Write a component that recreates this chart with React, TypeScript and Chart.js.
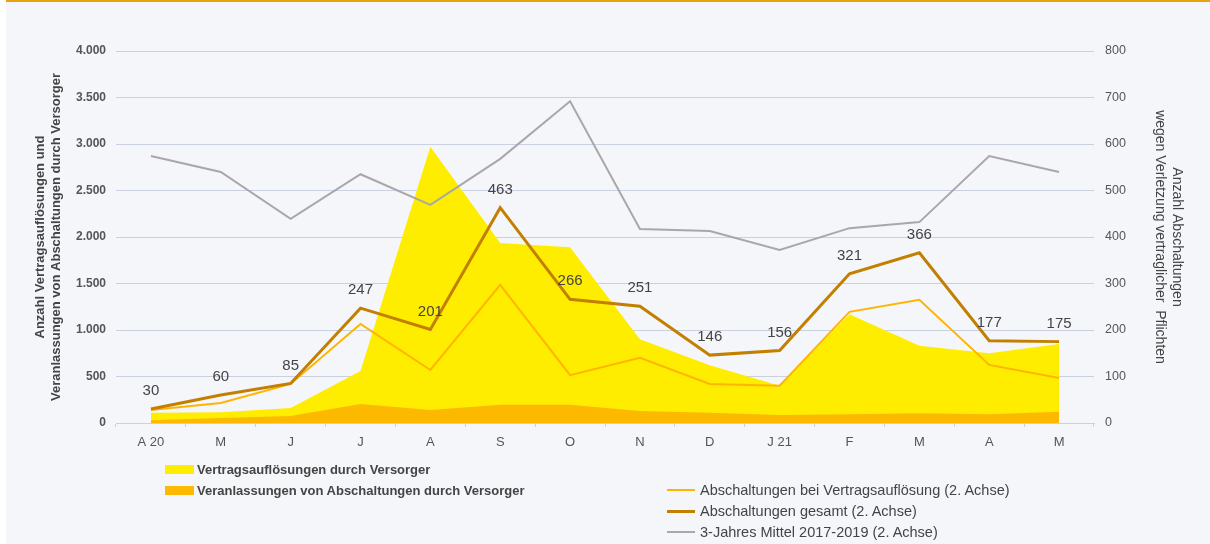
import React, { useEffect, useRef } from "react";
import { Chart, registerables } from "chart.js";

Chart.register(...registerables);

const categories = ["A 20", "M", "J", "J", "A", "S", "O", "N", "D", "J 21", "F", "M", "A", "M"];
const vertragsaufloesungen = [110, 115, 160, 560, 2970, 1935, 1890, 900, 620, 400, 1170, 830, 750, 850];
const veranlassungen = [30, 55, 75, 205, 140, 195, 195, 130, 110, 85, 95, 105, 95, 120];
const abschBeiVertrag = [28, 43, 84, 213, 114, 297, 103, 140, 84, 80, 239, 265, 125, 97];
const abschGesamt = [30, 60, 85, 247, 201, 463, 266, 251, 146, 156, 321, 366, 177, 175];
const mittel2017bis2019 = [574, 540, 439, 535, 469, 568, 692, 417, 413, 372, 419, 432, 574, 540];

const leftAxisMax = 4000;
const leftAxisStep = 500;
const rightAxisMax = 800;
const rightAxisStep = 100;

const leftTitle = ["Anzahl Vertragsauflösungen und", "Veranlassungen von Abschaltungen durch Versorger"];
const rightTitle = ["Anzahl Abschaltungen", "wegen Verletzung vertraglicher  Pflichten"];

const seriesLabels = [
  "Vertragsauflösungen durch Versorger",
  "Veranlassungen von Abschaltungen durch Versorger",
  "Abschaltungen bei Vertragsauflösung (2. Achse)",
  "Abschaltungen gesamt (2. Achse)",
  "3-Jahres Mittel 2017-2019 (2. Achse)",
];

const C_YELLOW = "#FFED00";
const C_ORANGE = "#FDB900";
const C_LIGHTLINE = "#FFB400";
const C_BROWN = "#C27F00";
const C_GRAY = "#A8A8A8";
const C_GRID = "#C9D0DF";
const C_TEXT = "#444444";
const FONT = "'Liberation Sans', Arial, sans-serif";

const fmtDE = (v: number) => String(v).replace(/\B(?=(\d{3})+(?!\d))/g, ".");

const labelPlugin = {
  id: "gesamtLabels",
  afterDatasetsDraw(chart: any) {
    const idx = chart.data.datasets.findIndex((d: any) => d.label === seriesLabels[3]);
    if (idx < 0) return;
    const meta = chart.getDatasetMeta(idx);
    const ctx = chart.ctx;
    ctx.save();
    ctx.font = `15px ${FONT}`;
    ctx.fillStyle = C_TEXT;
    ctx.textAlign = "center";
    ctx.textBaseline = "middle";
    meta.data.forEach((pt: any, i: number) => {
      ctx.fillText(String(abschGesamt[i]), pt.x, pt.y - 18);
    });
    ctx.restore();
  },
};

export default function App() {
  const ref = useRef<HTMLCanvasElement | null>(null);

  useEffect(() => {
    if (!ref.current) return;
    const chart = new Chart(ref.current, {
      type: "line",
      data: {
        labels: categories,
        datasets: [
          {
            label: seriesLabels[0],
            data: vertragsaufloesungen,
            yAxisID: "y",
            backgroundColor: C_YELLOW,
            borderColor: C_YELLOW,
            borderWidth: 0,
            fill: "origin",
            pointRadius: 0,
            tension: 0,
            order: 5,
          },
          {
            label: seriesLabels[1],
            data: veranlassungen,
            yAxisID: "y",
            backgroundColor: C_ORANGE,
            borderColor: C_ORANGE,
            borderWidth: 0,
            fill: "origin",
            pointRadius: 0,
            tension: 0,
            order: 4,
          },
          {
            label: seriesLabels[2],
            data: abschBeiVertrag,
            yAxisID: "y2",
            borderColor: C_LIGHTLINE,
            borderWidth: 2,
            fill: false,
            pointRadius: 0,
            tension: 0,
            order: 2,
          },
          {
            label: seriesLabels[3],
            data: abschGesamt,
            yAxisID: "y2",
            borderColor: C_BROWN,
            borderWidth: 3,
            fill: false,
            pointRadius: 0,
            tension: 0,
            order: 1,
          },
          {
            label: seriesLabels[4],
            data: mittel2017bis2019,
            yAxisID: "y2",
            borderColor: C_GRAY,
            borderWidth: 2,
            fill: false,
            pointRadius: 0,
            tension: 0,
            order: 3,
          },
        ],
      },
      options: {
        responsive: false,
        animation: false,
        layout: { padding: { left: 32, right: 25, top: 51, bottom: 0 } },
        plugins: {
          legend: { display: false },
          tooltip: { enabled: false },
        },
        scales: {
          x: {
            type: "category",
            offset: true,
            grid: {
              display: true,
              drawOnChartArea: false,
              drawTicks: true,
              tickLength: 4,
              color: C_GRID,
              offset: true,
            },
            border: { display: true, color: C_GRID, width: 1 },
            ticks: {
              color: "#555555",
              font: { family: FONT, size: 13 },
              padding: 8,
              maxRotation: 0,
              autoSkip: false,
            },
            afterFit: (s: any) => {
              s.height = 121;
            },
          },
          y: {
            position: "left",
            min: 0,
            max: leftAxisMax,
            ticks: {
              stepSize: leftAxisStep,
              color: "#555555",
              font: { family: FONT, size: 12, weight: "bold" },
              padding: 10,
              callback: (v: any) => fmtDE(Number(v)),
            },
            grid: { color: C_GRID, lineWidth: 1, drawTicks: false },
            border: { display: false },
            title: {
              display: true,
              text: leftTitle,
              color: C_TEXT,
              font: { family: FONT, size: 13, weight: "bold", lineHeight: 1.23 },
              padding: 0,
            },
            afterFit: (s: any) => {
              s.width = 84;
            },
          },
          y2: {
            position: "right",
            min: 0,
            max: rightAxisMax,
            ticks: {
              stepSize: rightAxisStep,
              color: "#555555",
              font: { family: FONT, size: 12.5 },
              padding: 11,
            },
            grid: { display: false, drawTicks: false },
            border: { display: false },
            title: {
              display: true,
              text: rightTitle,
              color: C_TEXT,
              font: { family: FONT, size: 14, lineHeight: 1.2 },
              padding: 0,
            },
            afterFit: (s: any) => {
              s.width = 91;
            },
          },
        },
      },
      plugins: [labelPlugin],
    } as any);
    return () => chart.destroy();
  }, []);

  const legendTextStyle: React.CSSProperties = {
    position: "absolute",
    fontFamily: FONT,
    fontSize: 13,
    color: C_TEXT,
    whiteSpace: "nowrap",
    lineHeight: "16px",
  };
  const rightLegendText: React.CSSProperties = { ...legendTextStyle, fontSize: 14.5, lineHeight: "18px" };

  return (
    <div style={{ position: "absolute", left: 0, top: 0, width: 1210, height: 544, background: "#ffffff", overflow: "hidden" }}>
      <div
        style={{
          position: "absolute",
          left: 6,
          top: 0,
          width: 1204,
          height: 544,
          background: "#F5F6FA",
          borderTop: "2px solid #E9A30F",
          boxSizing: "border-box",
        }}
      />
      <canvas ref={ref} width={1210} height={544} style={{ position: "absolute", left: 0, top: 0 }} />
      {/* Legend */}
      <div style={{ position: "absolute", left: 165, top: 465, width: 29, height: 9, background: C_YELLOW }} />
      <div style={{ ...legendTextStyle, left: 197, top: 462, fontWeight: "bold" }}>{seriesLabels[0]}</div>
      <div style={{ position: "absolute", left: 165, top: 486, width: 29, height: 9, background: C_ORANGE }} />
      <div style={{ ...legendTextStyle, left: 197, top: 483, fontWeight: "bold" }}>{seriesLabels[1]}</div>

      <div style={{ position: "absolute", left: 667, top: 489, width: 28, height: 2, background: C_LIGHTLINE }} />
      <div style={{ ...rightLegendText, left: 700, top: 481 }}>{seriesLabels[2]}</div>
      <div style={{ position: "absolute", left: 667, top: 510, width: 28, height: 3, background: C_BROWN }} />
      <div style={{ ...rightLegendText, left: 700, top: 502 }}>{seriesLabels[3]}</div>
      <div style={{ position: "absolute", left: 667, top: 531, width: 28, height: 2, background: C_GRAY }} />
      <div style={{ ...rightLegendText, left: 700, top: 523 }}>{seriesLabels[4]}</div>
    </div>
  );
}
